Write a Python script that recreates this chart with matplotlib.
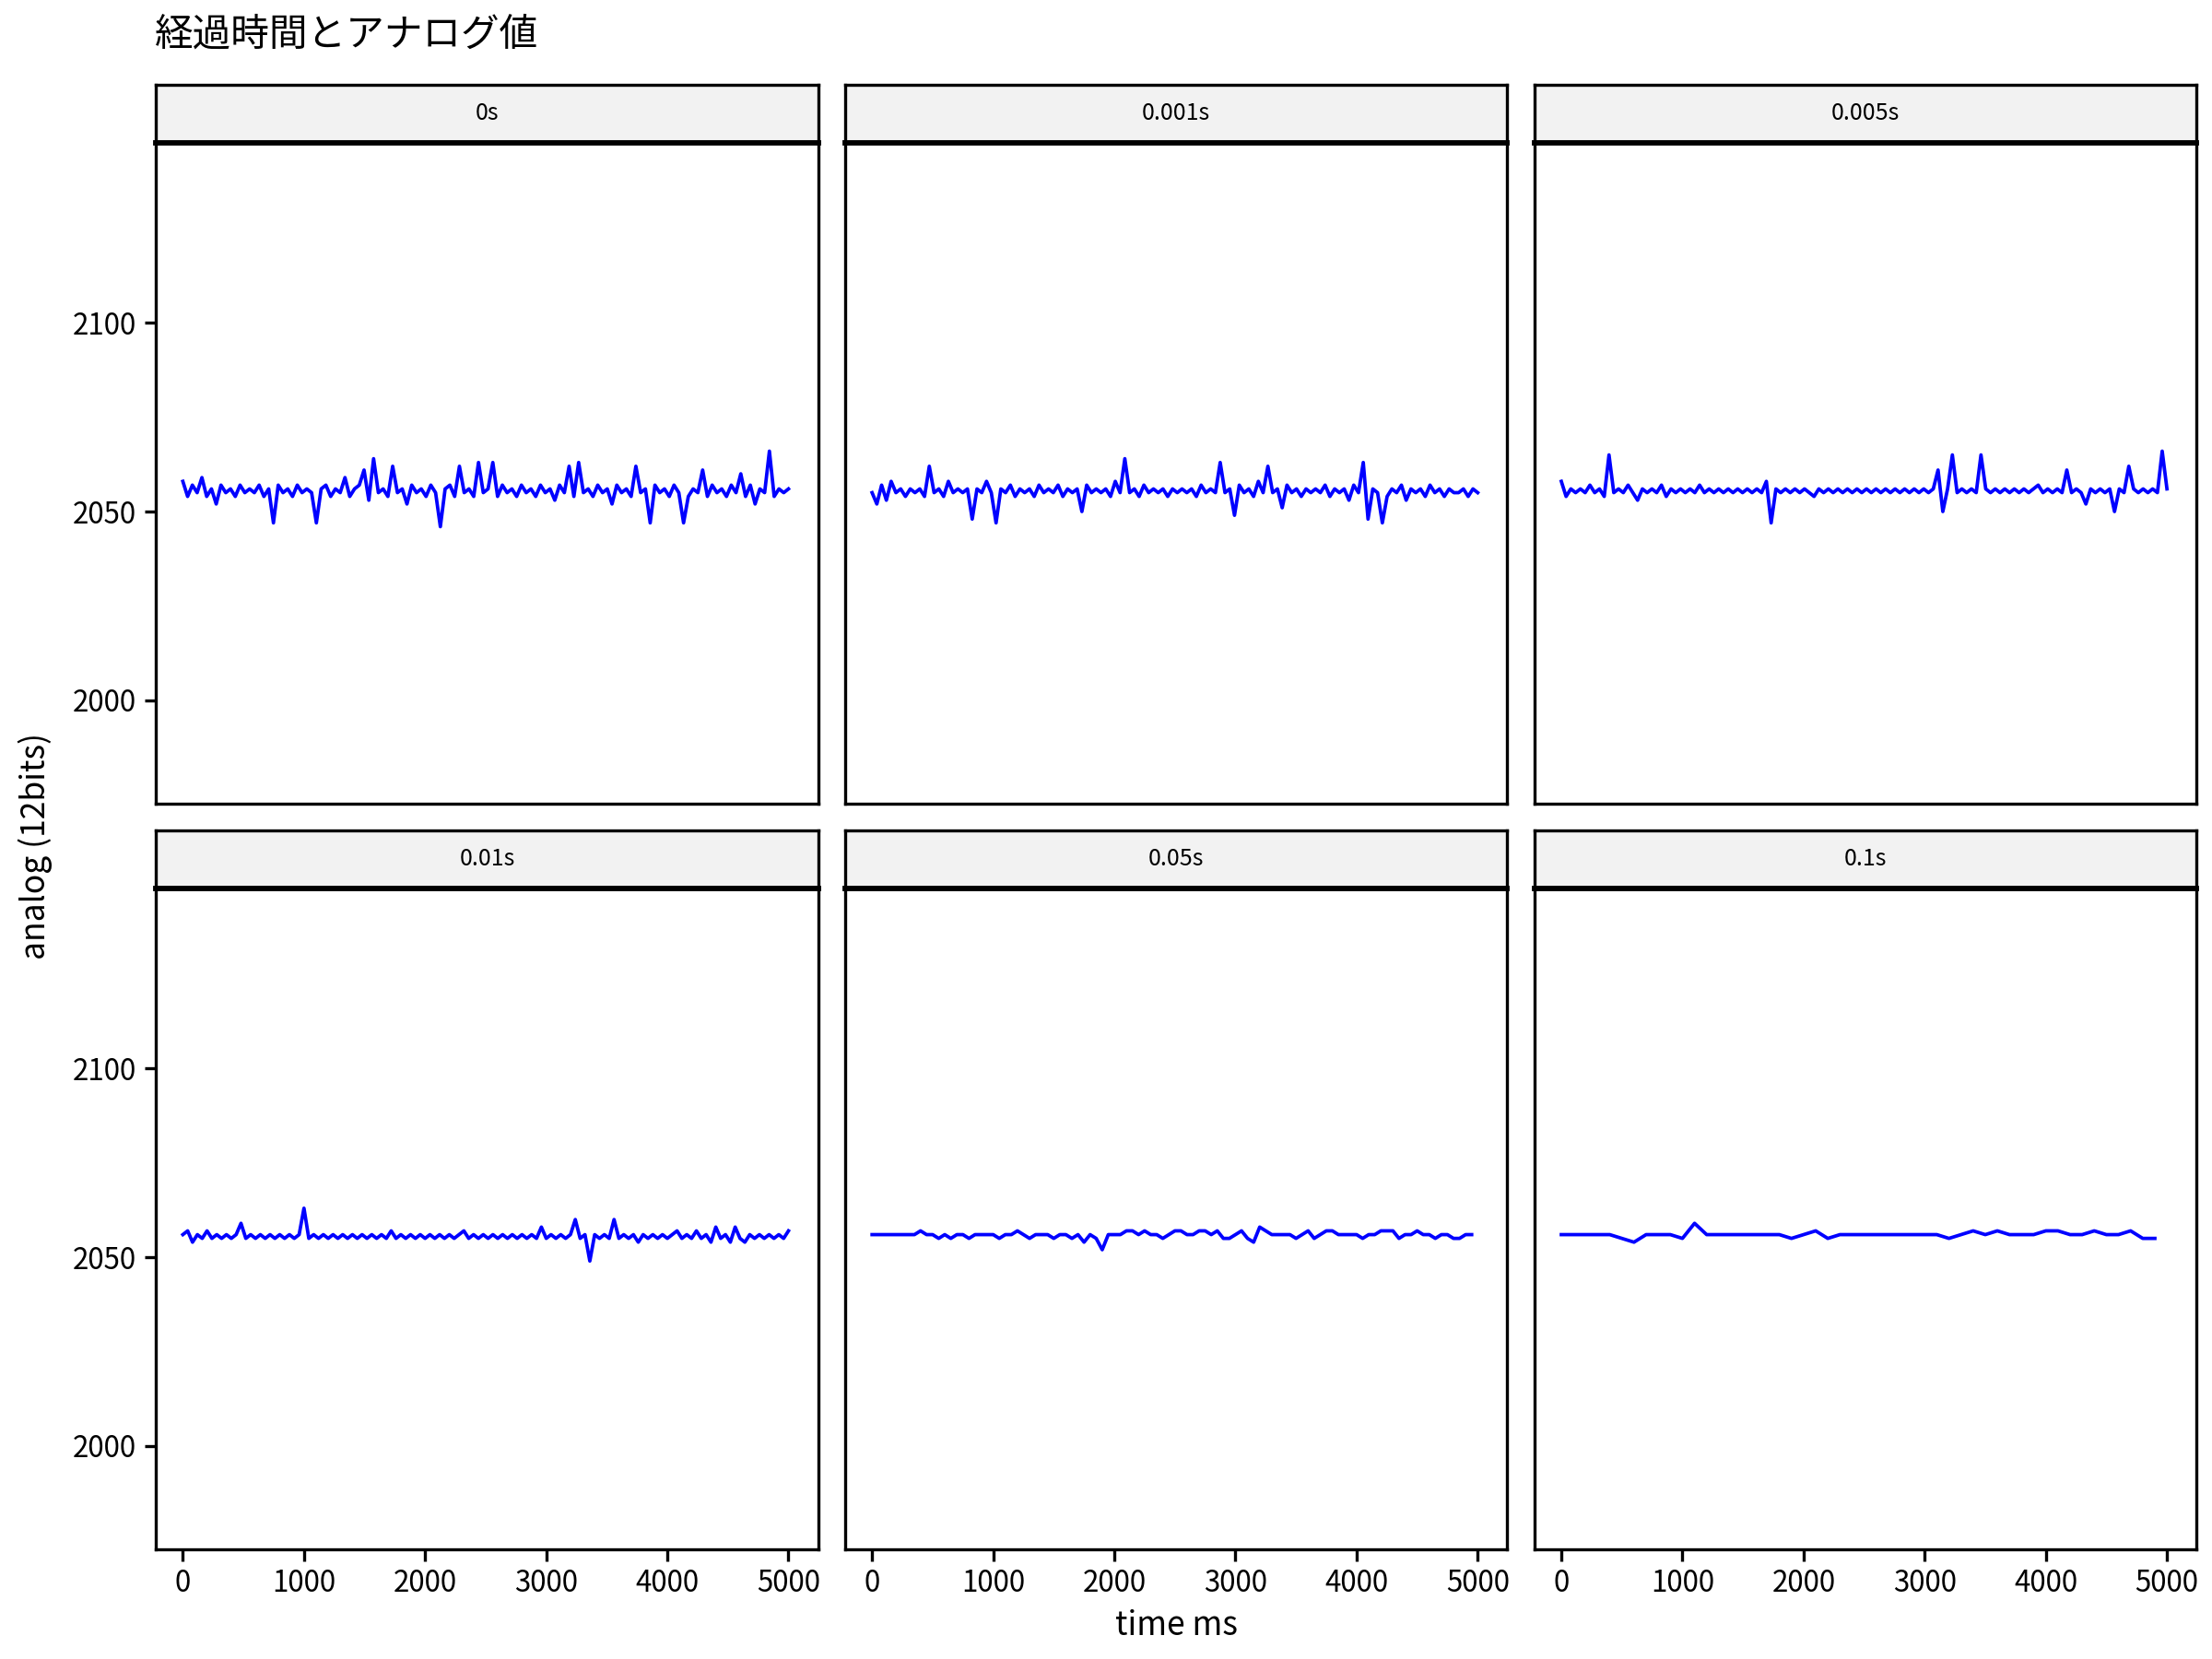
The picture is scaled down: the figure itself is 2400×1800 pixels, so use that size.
import matplotlib.pyplot as plt
import numpy as np

plt.rcParams['font.family'] = ['Noto Sans CJK JP', 'DejaVu Sans']

title = "経過時間とアナログ値"
panels = ["0s", "0.001s", "0.005s", "0.01s", "0.05s", "0.1s"]
steps = [40, 40, 40, 40, 50, 100]  # ms between readings as drawn

v_0s = [2058, 2054, 2057, 2055, 2059, 2054, 2056, 2052, 2057, 2055, 2056, 2054, 2057, 2055, 2056, 2055,
        2057, 2054, 2056, 2047, 2057, 2055, 2056, 2054, 2057, 2055, 2056, 2055, 2047, 2056, 2057, 2054,
        2056, 2055, 2059, 2054, 2056, 2057, 2061, 2053, 2064, 2055, 2056, 2054, 2062, 2055, 2056, 2052,
        2057, 2055, 2056, 2054, 2057, 2055, 2046, 2056, 2057, 2054, 2062, 2055, 2056, 2054, 2063, 2055,
        2056, 2063, 2054, 2057, 2055, 2056, 2054, 2057, 2055, 2056, 2054, 2057, 2055, 2056, 2053, 2057,
        2055, 2062, 2054, 2063, 2055, 2056, 2054, 2057, 2055, 2056, 2052, 2057, 2055, 2056, 2054, 2062,
        2055, 2056, 2047, 2057, 2055, 2056, 2054, 2057, 2055, 2047, 2054, 2056, 2055, 2061, 2054, 2057,
        2055, 2056, 2054, 2057, 2055, 2060, 2054, 2057, 2052, 2056, 2055, 2066, 2054, 2056, 2055, 2056]
v_1ms = [2055, 2052, 2057, 2053, 2058, 2055, 2056, 2054, 2056, 2055, 2056, 2054, 2062, 2055, 2056, 2054,
         2058, 2055, 2056, 2055, 2056, 2048, 2056, 2055, 2058, 2055, 2047, 2056, 2055, 2057, 2054, 2056,
         2055, 2056, 2054, 2057, 2055, 2056, 2055, 2057, 2054, 2056, 2055, 2056, 2050, 2057, 2055, 2056,
         2055, 2056, 2054, 2058, 2055, 2064, 2055, 2056, 2054, 2057, 2055, 2056, 2055, 2056, 2054, 2056,
         2055, 2056, 2055, 2056, 2054, 2057, 2055, 2056, 2055, 2063, 2055, 2056, 2049, 2057, 2055, 2056,
         2054, 2058, 2055, 2062, 2055, 2056, 2051, 2057, 2055, 2056, 2054, 2056, 2055, 2056, 2055, 2057,
         2054, 2056, 2055, 2056, 2053, 2057, 2055, 2063, 2048, 2056, 2055, 2047, 2054, 2056, 2055, 2057,
         2053, 2056, 2055, 2056, 2054, 2057, 2055, 2056, 2054, 2056, 2055, 2055, 2056, 2054, 2056, 2055]
v_5ms = [2058, 2054, 2056, 2055, 2056, 2055, 2057, 2055, 2056, 2054, 2065, 2055, 2056, 2055, 2057, 2055,
         2053, 2056, 2055, 2056, 2055, 2057, 2054, 2056, 2055, 2056, 2055, 2056, 2055, 2057, 2055, 2056,
         2055, 2056, 2055, 2056, 2055, 2056, 2055, 2056, 2055, 2056, 2055, 2058, 2047, 2056, 2055, 2056,
         2055, 2056, 2055, 2056, 2055, 2054, 2056, 2055, 2056, 2055, 2056, 2055, 2056, 2055, 2056, 2055,
         2056, 2055, 2056, 2055, 2056, 2055, 2056, 2055, 2056, 2055, 2056, 2055, 2056, 2055, 2056, 2061,
         2050, 2056, 2065, 2055, 2056, 2055, 2056, 2055, 2065, 2056, 2055, 2056, 2055, 2056, 2055, 2056,
         2055, 2056, 2055, 2056, 2057, 2055, 2056, 2055, 2056, 2055, 2061, 2055, 2056, 2055, 2052, 2056,
         2055, 2056, 2055, 2056, 2050, 2056, 2055, 2062, 2056, 2055, 2056, 2055, 2056, 2055, 2066, 2056]
v_10ms = [2056, 2057, 2054, 2056, 2055, 2057, 2055, 2056, 2055, 2056, 2055, 2056, 2059, 2055, 2056, 2055,
          2056, 2055, 2056, 2055, 2056, 2055, 2056, 2055, 2056, 2063, 2055, 2056, 2055, 2056, 2055, 2056,
          2055, 2056, 2055, 2056, 2055, 2056, 2055, 2056, 2055, 2056, 2055, 2057, 2055, 2056, 2055, 2056,
          2055, 2056, 2055, 2056, 2055, 2056, 2055, 2056, 2055, 2056, 2057, 2055, 2056, 2055, 2056, 2055,
          2056, 2055, 2056, 2055, 2056, 2055, 2056, 2055, 2056, 2055, 2058, 2055, 2056, 2055, 2056, 2055,
          2056, 2060, 2055, 2056, 2049, 2056, 2055, 2056, 2055, 2060, 2055, 2056, 2055, 2056, 2054, 2056,
          2055, 2056, 2055, 2056, 2055, 2056, 2057, 2055, 2056, 2055, 2057, 2055, 2056, 2054, 2058, 2055,
          2056, 2054, 2058, 2055, 2054, 2056, 2055, 2056, 2055, 2056, 2055, 2056, 2055, 2057]
v_50ms = [2056, 2056, 2056, 2056, 2056, 2056, 2056, 2056, 2057, 2056, 2056, 2055, 2056, 2055, 2056, 2056,
          2055, 2056, 2056, 2056, 2056, 2055, 2056, 2056, 2057, 2056, 2055, 2056, 2056, 2056, 2055, 2056,
          2056, 2055, 2056, 2054, 2056, 2055, 2052, 2056, 2056, 2056, 2057, 2057, 2056, 2057, 2056, 2056,
          2055, 2056, 2057, 2057, 2056, 2056, 2057, 2057, 2056, 2057, 2055, 2055, 2056, 2057, 2055, 2054,
          2058, 2057, 2056, 2056, 2056, 2056, 2055, 2056, 2057, 2055, 2056, 2057, 2057, 2056, 2056, 2056,
          2056, 2055, 2056, 2056, 2057, 2057, 2057, 2055, 2056, 2056, 2057, 2056, 2056, 2055, 2056, 2056,
          2055, 2055, 2056, 2056]
v_100ms = [2056, 2056, 2056, 2056, 2056, 2055, 2054, 2056, 2056, 2056, 2055, 2059, 2056, 2056, 2056, 2056,
           2056, 2056, 2056, 2055, 2056, 2057, 2055, 2056, 2056, 2056, 2056, 2056, 2056, 2056, 2056, 2056,
           2055, 2056, 2057, 2056, 2057, 2056, 2056, 2056, 2057, 2057, 2056, 2056, 2057, 2056, 2056, 2057,
           2055, 2055]
series = [v_0s, v_1ms, v_5ms, v_10ms, v_50ms, v_100ms]

fig, axes = plt.subplots(2, 3, figsize=(8, 6), dpi=300, sharex=True, sharey=True)
fig.subplots_adjust(left=0.0705, right=0.993, top=0.914, bottom=0.066, wspace=0.041, hspace=0.128)

for i, (ax, name, step, vals) in enumerate(zip(axes.flat, panels, steps, series)):
    t = np.arange(len(vals)) * step
    if step == 40:
        t = t * (5000 / ((len(vals) - 1) * step))
    ax.plot(t, vals, color="blue", lw=0.9)
    ax.set_xlim(-222, 5244)
    ax.set_ylim(1972.6, 2147.7)
    ax.set_xticks([0, 1000, 2000, 3000, 4000, 5000])
    ax.set_yticks([2000, 2050, 2100])
    ax.tick_params(labelsize=7.5, length=3, width=0.8, pad=2)
    if i % 3 != 0:
        ax.tick_params(left=False)
    if i < 3:
        ax.tick_params(bottom=False)
    for s in ax.spines.values():
        s.set_linewidth(0.8)
    # facet strip
    strip = ax.inset_axes([0, 1.0, 1, 0.088])
    strip.set_facecolor("#f2f2f2")
    strip.set_xticks([])
    strip.set_yticks([])
    for s in strip.spines.values():
        s.set_linewidth(0.8)
    strip.spines["bottom"].set_linewidth(1.4)
    strip.text(0.5, 0.5, name, ha="center", va="center", fontsize=6)

fig.text(0.07, 0.979, title, fontsize=10, va="center")
fig.text(0.532, 0.02, "time ms", ha="center", va="center", fontsize=8.5)
fig.text(0.016, 0.49, "analog (12bits)", rotation=90, ha="center", va="center", fontsize=8.5)

fig.savefig("out.png")
